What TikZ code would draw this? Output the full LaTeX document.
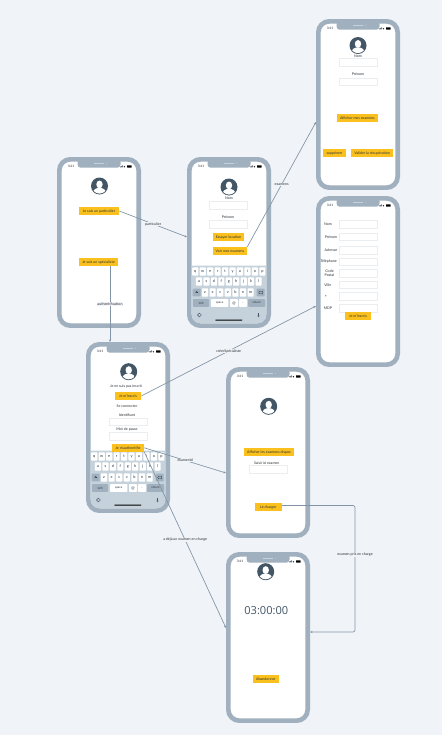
\documentclass[tikz,border=0pt]{standalone}
\usepackage{fontspec}
\setmainfont{Lato}
\newfontfamily\chronofont{Open Sans}
\usetikzlibrary{arrows.meta}

\definecolor{pagebg}{RGB}{240,243,247}
\definecolor{framegrey}{RGB}{160,176,190}
\definecolor{kbback}{RGB}{197,210,219}
\definecolor{darkslate}{RGB}{67,86,102}
\definecolor{btnyellow}{RGB}{250,192,30}
\definecolor{fieldline}{RGB}{235,238,241}
\definecolor{linkgrey}{RGB}{130,148,165}
\definecolor{inktext}{RGB}{42,48,54}

\tikzset{
	phonebody/.style={draw=framegrey,fill=white,line width=3.5pt,rounded corners=8.2pt,minimum width=59.5pt,minimum height=124.7pt,inner sep=0pt},
	btn/.style={fill=btnyellow,text=inktext,inner sep=0pt,minimum height=5.8pt,font=\fontsize{2.7}{3}\selectfont},
	field/.style={draw=fieldline,fill=white,line width=0.5pt,minimum width=28.6pt,minimum height=5.8pt,inner sep=0pt},
	lbl/.style={text=inktext,inner sep=0pt,align=center,font=\fontsize{2.7}{3}\selectfont},
	link/.style={draw=linkgrey,line width=0.5pt,-{Stealth[length=2pt,width=1.6pt]}},
	linklabel/.style={text=inktext,fill=pagebg,inner sep=0.4pt,font=\fontsize{2.7}{3}\selectfont},
	kbkey/.style={fill=white,text=inktext,rounded corners=0.5pt,minimum width=4.6pt,minimum height=6.2pt,inner sep=0pt,font=\fontsize{2.9}{3}\selectfont},
	kbdark/.style={fill=framegrey,text=inktext,rounded corners=0.5pt,minimum height=5.8pt,inner sep=0pt,font=\fontsize{2.2}{3}\selectfont},
}

% phone: name, left, top
\newcommand{\phone}[3]{
	\node[phonebody] (#1) at (#2+42,#3+85.5) {};
	\begin{scope}[shift={(#2,#3)}]
		\fill[framegrey,rounded corners=2.4pt] (20.5,2) rectangle (63.5,10.7);
		\draw[kbback,line width=0.3pt] (37,6.2) -- (47,6.2);
		\fill[kbback] (49.5,6.2) circle (0.5);
		\node[lbl] (#1time) at (14,9.6) {\fontsize{2.4}{3}\selectfont 3:41};
		\fill[inktext] (63,10.4) rectangle (63.6,9.4) (64,10.4) rectangle (64.6,8.9) (65,10.4) rectangle (65.6,8.4);
		\fill[inktext] (67.4,9.7) circle (0.8);
		\fill[black,rounded corners=0.3pt] (70,8.3) rectangle (74.6,10.6);
	\end{scope}
}

% keyboard: phone name, left, top
\newcommand{\keyboard}[3]{
	\begin{scope}[shift={(#2,#3)}]
		\fill[kbback] (4.7,108.5) -- (79.3,108.5) [rounded corners=6.4pt] -- (79.3,166.3) -- (4.7,166.3) [sharp corners] -- cycle;
		\foreach \k [count=\n] in {q,w,e,r,t,y,u,i,o,p}
			\node[kbkey] (#1key\k) at ({8.3+(\n-1)*7.45},114.5) {\k};
		\foreach \k [count=\n] in {a,s,d,f,g,h,j,k,l}
			\node[kbkey] (#1key\k) at ({12+(\n-1)*7.45},124.5) {\k};
		\foreach \k [count=\n] in {z,x,c,v,b,n,m}
			\node[kbkey] (#1key\k) at ({18+(\n-1)*7.6},135.5) {\k};
		\node[kbdark,minimum width=6pt] (#1shift) at (9.7,135.5) {};
		\draw[inktext,line width=0.25pt] (8.6,135.7) -- (9.7,134.4) -- (10.8,135.7) -- (8.6,135.7);
		\node[kbdark,minimum width=6pt] (#1back) at (73.7,135.5) {};
		\draw[inktext,line width=0.25pt,rounded corners=0.3pt] (71.6,135.5) -- (72.6,134.2) -- (75.8,134.2) -- (75.8,136.8) -- (72.6,136.8) -- cycle;
		\node[kbdark,minimum width=12pt] (#1num) at (14,146) {123};
		\node[kbkey,minimum width=13pt,minimum height=5.8pt,font=\fontsize{2.2}{3}\selectfont] (#1space) at (32.7,146) {space};
		\node[kbkey,minimum width=6pt,minimum height=5.8pt] (#1at) at (47,146) {@};
		\node[kbkey,minimum width=6pt,minimum height=5.8pt] (#1dot) at (56,146) {.};
		\node[kbdark,minimum width=12.6pt] (#1ret) at (69.6,146) {return};
		\draw[darkslate,line width=0.3pt] (12.4,158) circle (1.9);
		\fill[darkslate] (71,156.4) rectangle (71.9,159);
		\draw[darkslate,line width=0.2pt] (70.5,158.6) -- (71.45,160.2) -- (72.4,158.6);
		\fill[black,rounded corners=0.3pt] (28.3,162.6) rectangle (55.3,163.5);
	\end{scope}
}

% avatar: centre
\newcommand{\avatar}[2]{
	\begin{scope}[shift={(#1,#2)}]
		\fill[darkslate] (0,0) circle (8.5);
		\begin{scope}
			\clip (0,0) circle (7.6);
			\fill[white] (0,6.6) ellipse (6.4 and 4.8);
		\end{scope}
		\fill[white] (0,-1.6) ellipse (3.2 and 3.9);
	\end{scope}
}

\begin{document}
\begin{tikzpicture}[x=0.75pt,y=0.75pt,yscale=-1,xscale=1]

	\fill[pagebg] (0,0) rectangle (442,735);
	\useasboundingbox (0,0) rectangle (442,735);

	% phones
	\phone{phoneA}{57}{157}
	\phone{phoneB}{187}{157}
	\phone{phoneC}{316}{19}
	\phone{phoneD}{316}{196}
	\phone{phoneE}{86}{342}
	\phone{phoneF}{226}{367}
	\phone{phoneG}{226}{552}
	\keyboard{phoneB}{187}{157}
	\keyboard{phoneE}{86}{342}

	\avatar{99.5}{186}
	\avatar{229}{187}
	\avatar{358}{45.5}
	\avatar{128.7}{371.7}
	\avatar{268.7}{406.3}
	\avatar{265.7}{571.7}

	% choix
	\node[btn,minimum width=30pt] (btnParticulier) at (99,211) {Je suis un particulier};
	\node[btn,minimum width=29.3pt] (btnSpecialiste) at (98.5,262) {Je suis un spécialiste};

	% location
	\node[lbl] (lblNomB) at (229,198.5) {Nom};
	\node[field] (fieldNomB) at (228,205) {};
	\node[lbl] (lblPrenomB) at (228,217) {Prénom};
	\node[field] (fieldPrenomB) at (228,224) {};
	\node[btn,minimum width=23.3pt] (btnEssayer) at (228.5,237) {Essayer location};
	\node[btn,minimum width=25.5pt] (btnVoir) at (230,251) {Voir mes examens};

	% examens
	\node[lbl] (lblNomC) at (358,56.5) {Nom};
	\node[field] (fieldNomC) at (358,62.7) {};
	\node[lbl] (lblPrenomC) at (358,74.7) {Prénom};
	\node[field] (fieldPrenomC) at (358,81.8) {};
	\node[btn,minimum width=30.5pt] (btnAfficher) at (357.4,118) {Afficher mes examens};
	\node[btn,minimum width=17.3pt] (btnSupprimer) at (334.5,153) {supprimer};
	\node[btn,minimum width=31.7pt] (btnValider) at (372.2,153) {Valider la récupération};

	% inscription
	\foreach \nm/\yy/\xx/\txt in {Nom/224/328/Nom,Prenom/236.8/331/Prénom,Adresse/250/331/Adresse,Tel/261.7/328.7/Téléphone,Code/273.2/329.5/{Code\\Postal},Ville/284.7/327.7/Ville,Plus/296/326/+,Mdp/308/328/MDP}{
		\node[field] (field\nm) at (358,\yy) {};
		\node[lbl] (lbl\nm) at (\xx,\yy) {\txt};
	}
	\node[btn,minimum width=19.5pt] (btnInscrisD) at (358,316) {Je m'inscris};

	% connexion
	\node[lbl] (lblPasInscrit) at (126,386.3) {Je ne suis pas inscrit};
	\node[btn,minimum width=19.5pt] (btnInscris) at (128,396) {Je m'inscris};
	\node[lbl] (lblConnecter) at (127,406.3) {Se connecter};
	\node[lbl] (lblIdent) at (127,415.3) {Identifiant};
	\node[field] (fieldIdent) at (128,421.7) {};
	\node[lbl] (lblMdp) at (127,429.7) {Mot de passe};
	\node[field] (fieldMdpE) at (128,436) {};
	\node[btn,minimum width=24pt] (btnAuth) at (128,447.8) {Je m'authentifie};

	% choix examen
	\node[btn,minimum width=37.5pt] (btnDispos) at (269,452) {Afficher les examens dispos};
	\node[lbl] (lblSaisir) at (266.7,463.3) {Saisir id examen};
	\node[field] (fieldSaisir) at (268.3,469) {};
	\node[btn,minimum width=20pt] (btnCharger) at (268.3,507) {Le charger};

	% examen
	\node[text=darkslate,inner sep=0pt,font=\fontsize{8.3}{10}\chronofont] (lblChrono) at (266.3,610.3) {03:00:00};
	\node[btn,minimum width=19.5pt] (btnAbandon) at (266,679) {Abandonner};

	% liens
	\coordinate (chargeTurn) at (355,505.5);
	\draw[link] (btnParticulier.east) -- node[linklabel] {particulier} ([shift={(0,-5.5)}]phoneB.west);
	\draw[link] (btnSpecialiste.south -| 110,266) -- node[linklabel] {authentification} (phoneE.north -| 110,342);
	\draw[link] (btnVoir.north east) -- node[linklabel] {examens} ([shift={(0,17.5)}]phoneC.west);
	\draw[link] (btnInscris.east) -- node[linklabel] {créerSpécialiste} ([shift={(0,24.5)}]phoneD.west);
	\draw[link] (btnAuth.east) -- node[linklabel] {examenId} ([shift={(0,20.5)}]phoneF.west);
	\draw[link] (btnAuth.south east) -- node[linklabel] {a déjà un examen en charge} ([shift={(0,-9.5)}]phoneG.west);
	\draw[link,rounded corners=1.5pt] (btnCharger.east |- chargeTurn) -- (chargeTurn) -- node[linklabel,pos=.39] {examen pris en charge} (chargeTurn |- 0,632) -- (phoneG.east |- 0,632);

\end{tikzpicture}
\end{document}
